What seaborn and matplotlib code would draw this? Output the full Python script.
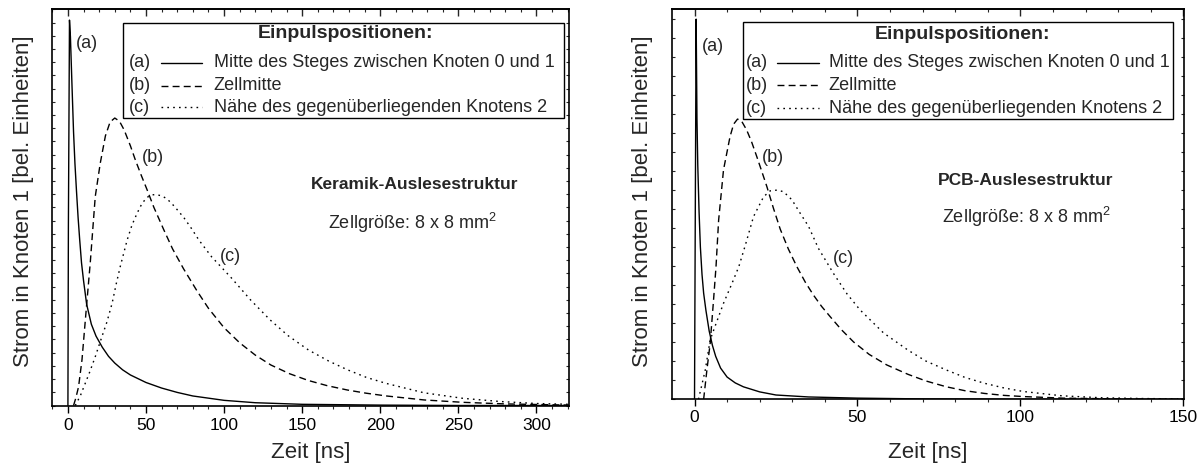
import numpy as np
import pandas as pd
import matplotlib
matplotlib.use("Agg")
import matplotlib.pyplot as plt
from matplotlib.patches import Rectangle
from matplotlib.ticker import MultipleLocator, NullFormatter
import seaborn as sns

# ---- data: Keramik-Auslesestruktur (time in ns, current in arbitrary units) ----
ker_t_a = [0.0, 0.3, 1.0, 1.6, 2.5, 3.6, 4.5, 5.5, 6.5, 7.5, 8.7, 10, 12, 15, 18, 22, 26,
           30, 35, 40, 50, 60, 70, 80, 100, 120, 150, 200, 250, 321]
ker_v_a = [0.0, 0.45, 0.972, 0.93, 0.82, 0.69, 0.61, 0.54, 0.475, 0.42, 0.36, 0.315, 0.255,
           0.205, 0.175, 0.147, 0.124, 0.107, 0.09, 0.077, 0.058, 0.044, 0.033, 0.024, 0.013,
           0.007, 0.003, 0.001, 0.0, 0.0]

ker_t_b = [3.6, 5, 6.8, 9, 11.7, 14.3, 17.5, 20.7, 24, 27, 30, 33, 36, 40, 43.2, 47, 50.7,
           55, 61.4, 67, 74, 82.8, 90, 100, 110, 120, 130, 142, 154, 166, 179, 191, 204,
           228, 253, 280, 321]
ker_v_b = [0.0, 0.018, 0.047, 0.115, 0.241, 0.36, 0.527, 0.611, 0.68, 0.715, 0.725, 0.717,
           0.695, 0.655, 0.619, 0.58, 0.544, 0.5, 0.443, 0.395, 0.345, 0.288, 0.245, 0.196,
           0.158, 0.127, 0.102, 0.08, 0.063, 0.05, 0.039, 0.031, 0.024, 0.014, 0.008,
           0.004, 0.001]

ker_t_c = [4.7, 8, 11.1, 14, 17.5, 21.8, 25, 28.3, 31, 33.6, 37.9, 41, 44.3, 47.5, 50.7,
           53.5, 56, 60, 63.5, 68, 74.2, 79, 83.9, 92, 104.6, 117, 129.4, 141, 154, 167, 179,
           191, 203.5, 228, 253, 277, 300, 321]
ker_v_c = [0.0, 0.025, 0.056, 0.085, 0.123, 0.174, 0.211, 0.258, 0.308, 0.352, 0.417, 0.455,
           0.485, 0.51, 0.525, 0.531, 0.532, 0.529, 0.521, 0.503, 0.474, 0.447, 0.417, 0.375,
           0.322, 0.266, 0.216, 0.176, 0.14, 0.112, 0.09, 0.071, 0.056, 0.032, 0.018, 0.01,
           0.005, 0.003]

# ---- data: PCB-Auslesestruktur ----
pcb_t_a = [0.0, 0.25, 0.5, 0.75, 1.0, 1.4, 1.8, 2.3, 2.8, 3.5, 4.5, 5.5, 6.5, 8, 10, 12.5,
           15, 20, 25, 35, 50, 70, 100, 150]
pcb_v_a = [0.0, 0.5, 0.974, 0.72, 0.6, 0.48, 0.39, 0.32, 0.272, 0.228, 0.175, 0.138, 0.11,
           0.08, 0.057, 0.042, 0.032, 0.019, 0.011, 0.006, 0.003, 0.001, 0.0, 0.0]

pcb_t_b = [2.8, 3.8, 4.8, 5.8, 6.6, 7.4, 8.9, 10.9, 12, 13.2, 14.5, 16, 17.5, 19.1, 20.6,
           22.2, 24.2, 26.3, 28.8, 31.4, 34, 36.5, 39, 41.6, 45, 48.8, 53.6, 59, 65.5, 71,
           77.3, 83, 89, 95, 101, 113, 130, 150]
pcb_v_b = [0.0, 0.075, 0.143, 0.25, 0.34, 0.459, 0.588, 0.673, 0.705, 0.718, 0.712, 0.69,
           0.66, 0.622, 0.585, 0.545, 0.49, 0.436, 0.385, 0.34, 0.3, 0.267, 0.238, 0.212,
           0.179, 0.147, 0.115, 0.088, 0.064, 0.047, 0.032, 0.022, 0.015, 0.01, 0.007,
           0.003, 0.001, 0.0]

pcb_t_c = [1.2, 2.2, 3.3, 4.8, 6.3, 8.9, 11.5, 13.6, 15.6, 18.1, 21.2, 23.2, 25.3, 27.3,
           29.9, 32.4, 35, 38, 42.6, 46.8, 50.8, 58, 65.5, 71, 77.3, 83, 89, 95, 100.9,
           112.7, 124.6, 137, 150]
pcb_v_c = [0.0, 0.035, 0.075, 0.152, 0.187, 0.246, 0.297, 0.34, 0.395, 0.468, 0.519, 0.534,
           0.536, 0.532, 0.511, 0.477, 0.443, 0.387, 0.323, 0.27, 0.229, 0.17, 0.126, 0.098,
           0.075, 0.056, 0.041, 0.029, 0.02, 0.009, 0.004, 0.002, 0.001]

tags = ["(a)", "(b)", "(c)"]
legend_labels = ["Mitte des Steges zwischen Knoten 0 und 1",
                 "Zellmitte",
                 "Nähe des gegenüberliegenden Knotens 2"]
legend_title = "Einpulspositionen:"
panel_titles = ["Keramik-Auslesestruktur", "PCB-Auslesestruktur"]
cell_text = "Zellgröße: 8 x 8 mm$^\\mathregular{2}$"
x_label = "Zeit [ns]"
y_label = "Strom in Knoten 1 [bel. Einheiten]"

sns.set_style("ticks")
plt.rcParams["font.family"] = ["Liberation Sans", "DejaVu Sans"]
plt.rcParams["mathtext.fontset"] = "custom"
plt.rcParams["mathtext.rm"] = "Liberation Sans"
plt.rcParams["mathtext.it"] = "Liberation Sans:italic"
plt.rcParams["mathtext.bf"] = "Liberation Sans:bold"
plt.rcParams["axes.linewidth"] = 1.2
plt.rcParams["axes.edgecolor"] = "black"

DASHES = {"(a)": "", "(b)": (5, 3), "(c)": (1.2, 3)}


def frame(ts, vs):
    parts = []
    for tag, t, v in zip(tags, ts, vs):
        parts.append(pd.DataFrame({"t": t, "v": v, "pos": tag}))
    return pd.concat(parts, ignore_index=True)


fig = plt.figure(figsize=(12, 4.66), dpi=100)
W, H = 1200, 466
ax1 = fig.add_axes([52.3 / W, 1 - 405.5 / H, 517 / W, 396.5 / H])
ax2 = fig.add_axes([671.7 / W, 1 - 399.3 / H, 512.3 / W, 390.3 / H])

panels = [
    dict(ax=ax1, df=frame([ker_t_a, ker_t_b, ker_t_c], [ker_v_a, ker_v_b, ker_v_c]),
         xlim=(-10, 321), ystep=0.0333, title=panel_titles[0], tickpad=4,
         tag_pos=[(5.3, 0.912), (47.5, 0.625), (97.2, 0.377)],
         title_pos=(222, 0.557), cell_pos=(220.8, 0.46),
         box=(0.1368, 0.7251, 0.9888, 0.9647), key_title=(0.568, 0.937),
         rows=[0.865, 0.807, 0.7516], key_tag_x=0.148, key_seg=(0.211, 0.289),
         key_text_x=0.312, ylab=(-0.0354, 0.516), xlab=-0.092),
    dict(ax=ax2, df=frame([pcb_t_a, pcb_t_b, pcb_t_c], [pcb_v_a, pcb_v_b, pcb_v_c]),
         xlim=(-7, 150.2), ystep=0.0487, title=panel_titles[1], tickpad=3,
         tag_pos=[(2.4, 0.904), (20.6, 0.62), (42.5, 0.36)],
         title_pos=(101.6, 0.56), cell_pos=(101.9, 0.467),
         box=(0.139, 0.718, 0.9785, 0.9675), key_title=(0.5676, 0.935),
         rows=[0.862, 0.804, 0.746], key_tag_x=0.145, key_seg=(0.2055, 0.2875),
         key_text_x=0.3067, ylab=(-0.0365, 0.507), xlab=-0.109),
]

for p in panels:
    ax = p["ax"]
    sns.lineplot(data=p["df"], x="t", y="v", style="pos", dashes=DASHES, color="black",
                 linewidth=1.0, estimator=None, legend=False, ax=ax)
    ax.set_xlim(*p["xlim"])
    ax.set_ylim(0, 1.0)

    # bottom ticks point outwards, left/right ticks inwards
    ax.xaxis.set_major_locator(MultipleLocator(50))
    ax.xaxis.set_minor_locator(MultipleLocator(10))
    ax.tick_params(axis="x", which="major", direction="out", length=5, width=1,
                   labelsize=12.5, pad=p["tickpad"], colors="black")
    ax.tick_params(axis="x", which="minor", direction="out", length=2.5, width=0.8)
    ax.yaxis.set_major_locator(MultipleLocator(p["ystep"]))
    ax.yaxis.set_major_formatter(NullFormatter())
    ax.tick_params(axis="y", which="major", direction="in", length=2.5, width=0.8,
                   left=True, right=True)

    # top axis mirrors the x ticks, pointing inwards
    top = ax.secondary_xaxis("top")
    top.xaxis.set_major_locator(MultipleLocator(50))
    top.xaxis.set_minor_locator(MultipleLocator(10))
    top.tick_params(which="major", direction="in", length=5, width=1, labeltop=False)
    top.tick_params(which="minor", direction="in", length=2.5, width=0.8)

    for s in ax.spines.values():
        s.set_visible(True)
        s.set_color("black")
        s.set_linewidth(1.2)

    ax.set_xlabel(x_label, fontsize=16)
    ax.set_ylabel(y_label, fontsize=16)
    ax.xaxis.set_label_coords(0.5, p["xlab"])
    ax.yaxis.set_label_coords(*p["ylab"])

    for tag, (tx, ty) in zip(tags, p["tag_pos"]):
        ax.text(tx, ty, tag, fontsize=13, ha="left", va="center")
    ax.text(*p["title_pos"], p["title"], fontsize=12.5, weight="bold",
            ha="center", va="center")
    ax.text(*p["cell_pos"], cell_text, fontsize=13, ha="center", va="center")

    # key box
    x0, y0, x1, y1 = p["box"]
    ax.add_patch(Rectangle((x0, y0), x1 - x0, y1 - y0, transform=ax.transAxes,
                           facecolor="white", edgecolor="black", linewidth=1.0,
                           zorder=5))
    ax.text(*p["key_title"], legend_title, transform=ax.transAxes, fontsize=14,
            weight="bold", ha="center", va="center", zorder=6)
    for tag, lab, yy in zip(tags, legend_labels, p["rows"]):
        ax.text(p["key_tag_x"], yy, tag, transform=ax.transAxes, fontsize=13,
                ha="left", va="center", zorder=6)
        ln, = ax.plot(p["key_seg"], [yy, yy], transform=ax.transAxes, color="black",
                      linewidth=1.0, zorder=6)
        if DASHES[tag]:
            ln.set_dashes(DASHES[tag])
        ax.text(p["key_text_x"], yy, lab, transform=ax.transAxes, fontsize=13,
                ha="left", va="center", zorder=6)

fig.savefig("out.png", dpi=100)
